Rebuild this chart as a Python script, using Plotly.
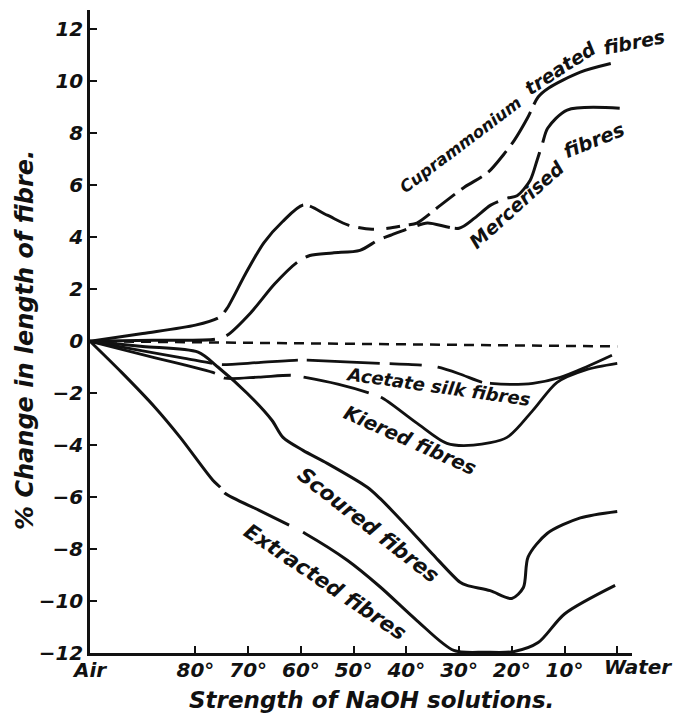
import plotly.graph_objects as go

# Strength of NaOH solutions (category positions along the x axis)
tick_pos = [0, 2, 3, 4, 5, 6, 7, 8, 9, 10]
tick_text = ["Air", "80°", "70°", "60°", "50°", "40°", "30°", "20°", "10°", ""]
end_label = "Water"  # last category, set slightly right of its tick
y_ticks = [-12, -10, -8, -6, -4, -2, 0, 2, 4, 6, 8, 10, 12]

# % change in length of fibre for each kind of fibre
cupra_x = [0, 1.0, 2.0, 2.45, 2.6, 2.95, 3.3, 3.65, 4.05, 4.5, 4.9, 5.35, 5.65, 6.0, 6.2, 6.65, 7.1, 7.55, 7.85, 8.05, 8.3, 8.5, 8.7, 9.3, 10.0]
cupra_y = [0, 0.3, 0.62, 0.92, 1.27, 2.6, 3.8, 4.6, 5.25, 4.85, 4.47, 4.31, 4.35, 4.47, 4.55, 5.24, 5.93, 6.5, 7.2, 7.74, 8.6, 9.4, 9.75, 10.36, 10.75]

merc_x = [0, 1.2, 2.37, 2.6, 3.05, 3.5, 3.93, 4.17, 4.6, 5.12, 5.47, 5.7, 6.13, 6.4, 7.0, 7.3, 7.6, 7.9, 8.1, 8.35, 8.48, 8.58, 8.68, 9.05, 10.05]
merc_y = [0, 0.04, 0.08, 0.23, 1.1, 2.2, 3.04, 3.3, 3.4, 3.5, 3.9, 4.08, 4.4, 4.55, 4.35, 4.75, 5.24, 5.5, 5.6, 6.2, 6.97, 7.6, 8.2, 8.9, 8.97]

acetate_x = [0, 1.0, 1.8, 2.32, 2.5, 3.2, 3.95, 4.12, 5.5, 6.3, 6.6, 7.0, 7.44, 7.6, 8.0, 8.4, 8.92, 9.4, 9.9]
acetate_y = [0, -0.37, -0.66, -0.85, -0.9, -0.82, -0.73, -0.73, -0.85, -0.92, -1.0, -1.25, -1.58, -1.62, -1.66, -1.62, -1.39, -1.0, -0.54]

kiered_x = [0, 1.2, 2.37, 2.56, 3.2, 3.83, 4.08, 4.7, 5.31, 5.56, 6.2, 6.77, 7.27, 7.91, 8.4, 8.86, 9.4, 10.0]
kiered_y = [0, -0.62, -1.23, -1.42, -1.38, -1.31, -1.39, -1.65, -2.0, -2.2, -3.15, -3.93, -4.0, -3.7, -2.66, -1.58, -1.1, -0.85]

scoured_x = [0, 1.0, 2.05, 2.43, 2.98, 3.45, 3.66, 4.04, 4.5, 5.26, 5.5, 6.0, 6.5, 7.02, 7.15, 7.59, 8.0, 8.22, 8.31, 8.67, 9.3, 10.0]
scoured_y = [0, -0.2, -0.42, -1.0, -2.0, -3.04, -3.7, -4.2, -4.7, -5.62, -6.05, -7.1, -8.2, -9.28, -9.4, -9.6, -9.9, -9.48, -8.3, -7.4, -6.8, -6.55]

extracted_x = [0, 0.6, 1.23, 1.71, 2.33, 2.47, 2.56, 3.2, 3.8, 4.08, 4.88, 5.5, 6.2, 6.9, 7.5, 8.03, 8.5, 9.0, 9.96]
extracted_y = [0, -1.2, -2.54, -3.7, -5.35, -5.62, -5.85, -6.5, -7.1, -7.4, -8.43, -9.45, -10.75, -11.9, -11.97, -11.95, -11.6, -10.5, -9.4]

base_x = [0, 10]
base_y = [0, -0.2]

INK = "#111111"
FONT = "DejaVu Sans"

W, H = 678, 716
ml, mr, mt, mb = 90, 46, 10, 63


def paper(px, py):
    """Pixel position on the page -> paper coordinates."""
    return (px - ml) / (W - ml - mr), (H - mb - py) / (H - mt - mb)


def txtfont(size):
    return dict(family=FONT, size=size, color=INK, style="italic", weight="bold")


fig = go.Figure()


def curve(x, y, dash="solid", width=3):
    fig.add_trace(go.Scatter(
        x=x, y=y, mode="lines",
        line=dict(color=INK, width=width, dash=dash, shape="spline", smoothing=0.8),
        hoverinfo="skip", showlegend=False,
    ))


# hand-drawn style broken strokes (dash / gap lengths along each curve)
curve(base_x, base_y, dash="10px,7px", width=2.5)
curve(cupra_x, cupra_y,
      dash="130px,9px,135px,7px,44px,9px,16px,12px,14px,9px,24px,8px,24px,8px,24px,8px,28px,8px,38px,8px,90px")
curve(merc_x, merc_y,
      dash="125px,12px,102px,10px,72px,10px,24px,12px,33px,5px,52px,10px,60px,10px,95px")
curve(acetate_x, acetate_y,
      dash="124px,10px,76px,9px,73px,10px,32px,16px,47px,8px,140px", width=2.8)
curve(kiered_x, kiered_y, dash="129px,10px,67px,13px,67px,13px,420px", width=2.8)
curve(scoured_x, scoured_y)
curve(extracted_x, extracted_y, dash="196px,7px,72px,16px,700px")


def page_text(text, px, py, ang, size):
    x, y = paper(px, py)
    fig.add_annotation(
        x=x, y=y, xref="paper", yref="paper", text=text, showarrow=False,
        xanchor="center", yanchor="middle", textangle=ang, font=txtfont(size),
    )


# Curve labels written along the curves (page position, angle, size)
labels = [
    ("Cuprammonium", 460, 145, -37, 16.5),
    ("treated", 560, 68, -33, 19),
    ("fibres", 634, 42, -11, 19),
    ("Mercerised", 516, 205, -42, 19),
    ("fibres", 594, 140, -22, 19.5),
    ("Acetate silk fibres", 438, 386, 8, 18),
    ("Kiered fibres", 410, 440, 24, 19.5),
    ("Scoured fibres", 368, 525, 38, 21),
    ("Extracted fibres", 325, 582, 34, 21),
]
for text, px, py, ang, size in labels:
    page_text(text, px, py, ang, size)

# last x category label and axis titles
page_text(end_label, 638, 667, 0, 20)
page_text("% Change in length of fibre.", 25, 340, -90, 24)
page_text("Strength of NaOH solutions.", 372, 700, 0, 23)

fig.update_layout(
    width=W, height=H,
    margin=dict(l=ml, r=mr, t=mt, b=mb),
    paper_bgcolor="white", plot_bgcolor="white",
    font=dict(family=FONT, color=INK),
    showlegend=False,
)
fig.update_xaxes(
    range=[0, 10.28], tickvals=tick_pos, ticktext=tick_text, tickangle=0,
    showline=True, linecolor=INK, linewidth=2.5, showgrid=False, zeroline=False,
    ticks="inside", ticklen=7, tickwidth=2, tickcolor=INK,
    tickfont=txtfont(20), ticklabelstandoff=-3,
)
fig.update_yaxes(
    range=[-12, 12.75], tickvals=y_ticks,
    showline=True, linecolor=INK, linewidth=2.5, showgrid=False, zeroline=False,
    ticks="inside", ticklen=7, tickwidth=2, tickcolor=INK,
    tickfont=txtfont(20),
)

fig.write_html("out.html")
